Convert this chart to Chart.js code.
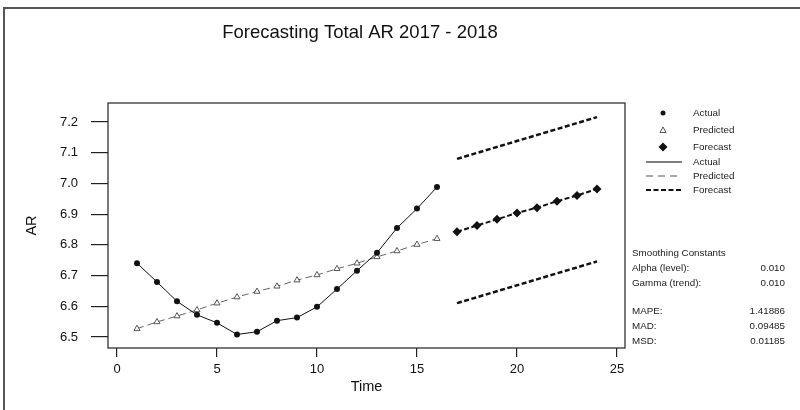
<!DOCTYPE html>
<html lang="en">
<head>
  <meta charset="UTF-8">
  <title>Forecasting Total AR 2017 - 2018</title>
  <style>
    html, body {
      margin: 0;
      padding: 0;
      background: #fff;
    }
    #wrap {
      width: 800px;
      height: 410px;
    }
  </style>
</head>
<body>
  <div id="wrap"><canvas id="chartCanvas"></canvas></div>

  <script src="https://cdn.jsdelivr.net/npm/chart.js"></script>
  <script>
    // Data
    const periods = [1, 2, 3, 4, 5, 6, 7, 8, 9, 10, 11, 12, 13, 14, 15, 16];
    const actual = [6.740, 6.679, 6.616, 6.572, 6.546, 6.508, 6.517, 6.553,
                    6.563, 6.598, 6.656, 6.716, 6.774, 6.855, 6.918, 6.988];
    const predicted = [6.527, 6.549, 6.568, 6.588, 6.610, 6.630, 6.648, 6.665,
                       6.685, 6.702, 6.722, 6.740, 6.761, 6.780, 6.801, 6.820];
    const forecastPeriods = [17, 18, 19, 20, 21, 22, 23, 24];
    const forecast = [6.843, 6.863, 6.883, 6.904, 6.921, 6.942, 6.961, 6.982];
    const boundPeriods = [17, 24];
    const upper = [7.080, 7.216];
    const lower = [6.610, 6.746];

    const xTicks = [0, 5, 10, 15, 20, 25];
    const yTicks = [6.5, 6.6, 6.7, 6.8, 6.9, 7.0, 7.1, 7.2];

    const legendLabels = ['Actual', 'Predicted', 'Forecast', 'Actual', 'Predicted', 'Forecast'];
    const statLabels = ['Smoothing Constants', 'Alpha (level):', 'Gamma (trend):', 'MAPE:', 'MAD:', 'MSD:'];
    const statValues = ['', '0.010', '0.010', '1.41886', '0.09485', '0.01185'];

    const FONT = "'Liberation Sans', Arial, sans-serif";

    function toPoints(xs, ys) {
      return ys.map((v, i) => ({ x: xs[i], y: v }));
    }

    // frame, plot box, title, legend and smoothing stats
    const decorations = {
      id: 'decorations',
      afterDraw(chart) {
        const ctx = chart.ctx;
        const a = chart.chartArea;
        ctx.save();

        // outer frame (left and top edges only are visible)
        ctx.strokeStyle = '#555';
        ctx.lineWidth = 2;
        ctx.beginPath();
        ctx.moveTo(4, 410);
        ctx.lineTo(4, 8);
        ctx.lineTo(800, 8);
        ctx.stroke();

        // plot box
        ctx.strokeStyle = '#222';
        ctx.lineWidth = 1.2;
        ctx.strokeRect(a.left, a.top, a.right - a.left, a.bottom - a.top);

        // title
        ctx.fillStyle = '#111';
        ctx.font = '18.5px ' + FONT;
        ctx.textAlign = 'center';
        ctx.textBaseline = 'middle';
        ctx.fillText('Forecasting Total AR 2017 - 2018', 360, 33);

        // legend
        const lx = 663, tx = 693;
        const ly = [113, 130, 147, 162, 176, 190];
        ctx.fillStyle = '#111';
        ctx.beginPath();
        ctx.arc(lx, ly[0], 2.5, 0, Math.PI * 2);
        ctx.fill();

        ctx.strokeStyle = '#555';
        ctx.lineWidth = 1;
        ctx.beginPath();
        ctx.moveTo(lx, ly[1] - 3);
        ctx.lineTo(lx + 3, ly[1] + 2.5);
        ctx.lineTo(lx - 3, ly[1] + 2.5);
        ctx.closePath();
        ctx.stroke();

        ctx.fillStyle = '#111';
        ctx.beginPath();
        ctx.moveTo(lx, ly[2] - 4.5);
        ctx.lineTo(lx + 4.5, ly[2]);
        ctx.lineTo(lx, ly[2] + 4.5);
        ctx.lineTo(lx - 4.5, ly[2]);
        ctx.closePath();
        ctx.fill();

        ctx.strokeStyle = '#555';
        ctx.lineWidth = 1.3;
        ctx.beginPath();
        ctx.moveTo(646, ly[3]);
        ctx.lineTo(682, ly[3]);
        ctx.stroke();

        ctx.setLineDash([7, 5]);
        ctx.lineWidth = 1;
        ctx.beginPath();
        ctx.moveTo(646, ly[4]);
        ctx.lineTo(682, ly[4]);
        ctx.stroke();

        ctx.setLineDash([5, 2.5]);
        ctx.strokeStyle = '#111';
        ctx.lineWidth = 2;
        ctx.beginPath();
        ctx.moveTo(646, ly[5]);
        ctx.lineTo(682, ly[5]);
        ctx.stroke();
        ctx.setLineDash([]);

        ctx.font = '9.8px ' + FONT;
        ctx.fillStyle = '#222';
        ctx.textAlign = 'left';
        legendLabels.forEach((t, i) => ctx.fillText(t, tx, ly[i]));

        // smoothing constants and accuracy measures
        const sy = [253, 268, 283, 311, 326, 341];
        statLabels.forEach((t, i) => {
          ctx.textAlign = 'left';
          ctx.fillText(t, 632, sy[i]);
          ctx.textAlign = 'right';
          ctx.fillText(statValues[i], 785, sy[i]);
        });

        ctx.restore();
      }
    };

    const chart = new Chart(document.getElementById('chartCanvas'), {
      type: 'line',
      data: {
        datasets: [
          {
            label: 'Actual',
            data: toPoints(periods, actual),
            borderColor: '#111',
            borderWidth: 1,
            pointStyle: 'circle',
            pointRadius: 3,
            pointBackgroundColor: '#111',
            pointBorderWidth: 0
          },
          {
            label: 'Predicted',
            data: toPoints(periods, predicted),
            borderColor: '#666',
            borderWidth: 1,
            borderDash: [7, 4],
            pointStyle: 'triangle',
            pointRadius: 3.5,
            pointBackgroundColor: '#fff',
            pointBorderColor: '#555',
            pointBorderWidth: 1
          },
          {
            label: 'Forecast',
            data: toPoints(forecastPeriods, forecast),
            borderColor: '#111',
            borderWidth: 2,
            borderDash: [5, 2.5],
            pointStyle: 'rectRot',
            pointRadius: 4.5,
            pointBackgroundColor: '#111',
            pointBorderWidth: 0
          },
          {
            label: 'Upper',
            data: toPoints(boundPeriods, upper),
            borderColor: '#111',
            borderWidth: 2.5,
            borderDash: [5, 2.5],
            pointRadius: 0
          },
          {
            label: 'Lower',
            data: toPoints(boundPeriods, lower),
            borderColor: '#111',
            borderWidth: 2.5,
            borderDash: [5, 2.5],
            pointRadius: 0
          }
        ]
      },
      options: {
        responsive: true,
        maintainAspectRatio: false,
        animation: false,
        layout: { padding: { left: 4, right: 175, top: 103, bottom: 0 } },
        plugins: {
          legend: { display: false },
          tooltip: { enabled: false },
          title: { display: false }
        },
        scales: {
          x: {
            type: 'linear',
            min: -0.45,
            max: 25.4,
            afterBuildTicks: s => { s.ticks = xTicks.map(v => ({ value: v })); },
            afterFit: s => { s.height = 62; },
            grid: { drawOnChartArea: false, tickLength: 9, color: '#222', lineWidth: 1.2 },
            border: { display: false },
            ticks: {
              padding: 5,
              maxRotation: 0,
              color: '#111',
              font: { family: FONT, size: 13 }
            },
            title: {
              display: true,
              text: 'Time',
              color: '#111',
              font: { family: FONT, size: 14.5 },
              padding: { top: 0, bottom: 14 }
            }
          },
          y: {
            min: 6.464,
            max: 7.262,
            afterBuildTicks: s => { s.ticks = yTicks.map(v => ({ value: v })); },
            afterFit: s => { s.width = 104; },
            grid: { drawOnChartArea: false, tickLength: 17, color: '#222', lineWidth: 1.2 },
            border: { display: false },
            ticks: {
              padding: 13,
              color: '#111',
              font: { family: FONT, size: 13 },
              callback: v => v.toFixed(1)
            },
            title: {
              display: true,
              text: 'AR',
              color: '#111',
              font: { family: FONT, size: 14.5 },
              padding: { top: 19, bottom: 0 }
            }
          }
        }
      },
      plugins: [decorations]
    });
  </script>
</body>
</html>
